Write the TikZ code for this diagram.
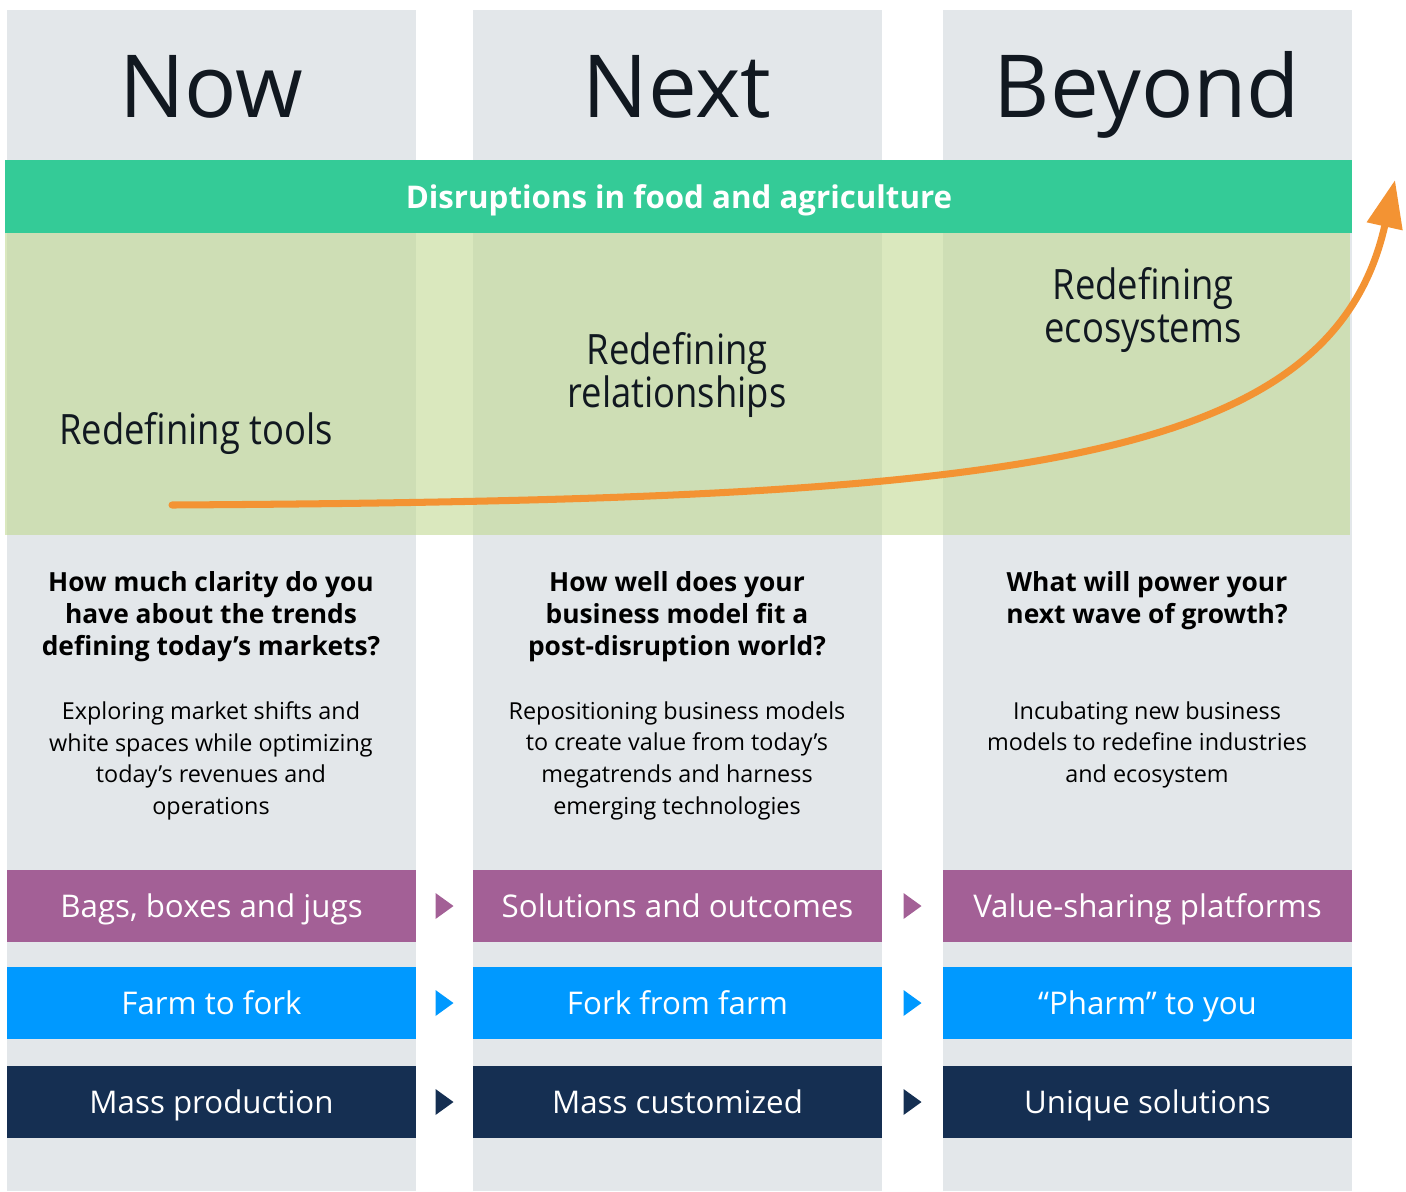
\documentclass[tikz,border=0pt]{standalone}
\usepackage{fontspec}
\setmainfont{Open Sans}
\newfontfamily\stagefont[FakeStretch=0.87]{Open Sans}
\usetikzlibrary{arrows.meta}
\usetikzlibrary{calc}

\definecolor{colgray}{HTML}{E3E7EA}
\definecolor{bandgreen}{HTML}{34CB97}
\definecolor{leafgreen}{HTML}{C1D993}
\definecolor{inkdark}{HTML}{111820}
\definecolor{barpurple}{HTML}{A36096}
\definecolor{barblue}{HTML}{0099FF}
\definecolor{barnavy}{HTML}{152F52}
\definecolor{curveorange}{HTML}{F39333}

\begin{document}
\begin{tikzpicture}[x=0.02cm,y=-0.02cm]
    \useasboundingbox (0,0) rectangle (1406,1191);

    % grey columns
    \foreach \i/\x in {0/7,1/473,2/943}{
        \fill[colgray] (\x,10) rectangle ++(409,1181);
    }

    % green bands
    \fill[bandgreen] (5,160) rectangle (1352,233);
    \fill[leafgreen,opacity=0.6] (5,233) rectangle (1350,535);
    \node[text=white,anchor=base,font=\bfseries\fontsize{17.8}{22}\selectfont] (band) at (679,208) {Disruptions in food and agriculture};

    % headings
    \begin{scope} [every node/.style={text=inkdark,anchor=base,font=\fontsize{49.5}{60}\selectfont}]
        \node (now) at (211,117) {Now};
        \node (next) at (677,117) {Next};
        \node (beyond) at (1147,117) {Beyond};
    \end{scope}

    % stages
    \begin{scope} [every node/.style={text=inkdark,align=center,font=\stagefont\fontsize{23.8}{24.4}\selectfont}]
        \node (tools) at (196,434) {Redefining tools};
        \node (relations) at (677,375) {Redefining\\relationships};
        \node (ecosys) at (1143,310) {Redefining\\ecosystems};
    \end{scope}

    % questions and texts
    \begin{scope} [every node/.style={text=black,align=center,inner sep=0pt,anchor=north}]
        \begin{scope} [every node/.append style={font=\bfseries\fontsize{15}{18.14}\selectfont}]
            \node (q0) at (211,571) {How much clarity do you\\have about the trends\\defining today’s markets?};
            \node (q1) at (677,571) {How well does your\\business model fit a\\post-disruption world?};
            \node (q2) at (1147,571) {What will power your\\next wave of growth?};
        \end{scope}
        \begin{scope} [every node/.append style={font=\fontsize{13.3}{18.14}\selectfont}]
            \node (t0) at (211,701) {Exploring market shifts and\\white spaces while optimizing\\today’s revenues and\\operations};
            \node (t1) at (677,701) {Repositioning business models\\to create value from today’s\\megatrends and harness\\emerging technologies};
            \node (t2) at (1147,701) {Incubating new business\\models to redefine industries\\and ecosystem};
        \end{scope}
    \end{scope}

    % bars
    \begin{scope} [every node/.style={text=white,minimum width=8.18cm,minimum height=1.44cm,inner sep=0pt,
            text height=12.7pt,text depth=0pt,font=\fontsize{17.8}{22}\selectfont}]
        \node[fill=barpurple] (p0) at (211.5,906) {Bags, boxes and jugs};
        \node[fill=barpurple] (p1) at (677.5,906) {Solutions and outcomes};
        \node[fill=barpurple] (p2) at (1147.5,906) {Value-sharing platforms};
        \node[fill=barblue] (b0) at (211.5,1003) {Farm to fork};
        \node[fill=barblue] (b1) at (677.5,1003) {Fork from farm};
        \node[fill=barblue] (b2) at (1147.5,1003) {“Pharm” to you};
        \node[fill=barnavy] (m0) at (211.5,1102) {Mass production};
        \node[fill=barnavy] (m1) at (677.5,1102) {Mass customized};
        \node[fill=barnavy] (m2) at (1147.5,1102) {Unique solutions};
    \end{scope}

    % markers between bars
    \foreach \r/\c in {p/barpurple,b/barblue,m/barnavy}{
        \foreach \a/\b in {0/1,1/2}{
            \fill[\c] ($(\r\a.east)!0.5!(\r\b.west)+(-9,-13)$) -- ++(18,13) -- ++(-18,13) -- cycle;
        }
    }

    % growth curve
    \coordinate (start) at (172,505);
    \coordinate (tip) at (1395,180);
    \draw[curveorange,line width=4pt,line cap=round,-{Triangle[length=0.95cm,width=0.7cm]}]
        (start) .. controls (1000,500) and (1330,470) .. (tip);
\end{tikzpicture}
\end{document}
